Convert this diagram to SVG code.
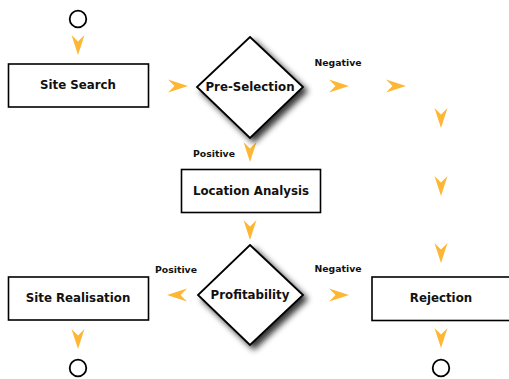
<svg xmlns="http://www.w3.org/2000/svg" xmlns:xlink="http://www.w3.org/1999/xlink" width="509" height="379" viewBox="0 0 509 379">
<style>
.box{fill:#fff;stroke:#000;stroke-width:1.6}
.dia{fill:#fff;stroke:#000;stroke-width:1.8;filter:url(#sh)}
.term{fill:#fff;stroke:#000;stroke-width:1.8}
.t{font-family:"DejaVu Sans",sans-serif;font-weight:bold;font-size:11.8px;text-anchor:middle;fill:#111}
.l{font-family:"DejaVu Sans",sans-serif;font-weight:bold;font-size:9.3px;text-anchor:middle;fill:#111}
.ah{fill:#FDB735}
</style>
<defs>
<filter id="sh" x="-30%" y="-30%" width="160%" height="160%">
<feGaussianBlur in="SourceAlpha" stdDeviation="3"/>
<feOffset dx="4" dy="4" result="b"/>
<feComponentTransfer><feFuncA type="linear" slope="0.8"/></feComponentTransfer>
<feMerge><feMergeNode/><feMergeNode in="SourceGraphic"/></feMerge>
</filter>
<path id="ah" class="ah" d="M0,0 L-20,-6.5 L-13.5,0 L-20,6.5 Z"/>
</defs>
<g id="connectors">
<use xlink:href="#ah" transform="translate(78,55) rotate(90)"/>
<use xlink:href="#ah" transform="translate(188,86)"/>
<use xlink:href="#ah" transform="translate(349,86)"/>
<use xlink:href="#ah" transform="translate(406,86)"/>
<use xlink:href="#ah" transform="translate(441,128) rotate(90)"/>
<use xlink:href="#ah" transform="translate(441,196) rotate(90)"/>
<use xlink:href="#ah" transform="translate(441,263) rotate(90)"/>
<use xlink:href="#ah" transform="translate(250,162) rotate(90)"/>
<use xlink:href="#ah" transform="translate(250,240) rotate(90)"/>
<use xlink:href="#ah" transform="translate(167,295) rotate(180)"/>
<use xlink:href="#ah" transform="translate(349,295)"/>
<use xlink:href="#ah" transform="translate(78,349) rotate(90)"/>
<use xlink:href="#ah" transform="translate(441,348) rotate(90)"/>
<text class="l" x="338" y="65.5">Negative</text>
<text class="l" x="214" y="156.5">Positive</text>
<text class="l" x="176" y="272.5">Positive</text>
<text class="l" x="338" y="271.5">Negative</text>
</g>
<g id="start"><circle class="term" cx="78" cy="19" r="8.3"/></g>
<g id="site-search"><rect class="box" x="8.5" y="64" width="140" height="43"/><text class="t" x="78" y="89">Site Search</text></g>
<g id="pre-selection"><polygon class="dia" points="250,37 303,87 250,138 197,87"/><text class="t" x="250" y="91">Pre-Selection</text></g>
<g id="location-analysis"><rect class="box" x="181.5" y="169.5" width="139" height="43"/><text class="t" x="251" y="195">Location Analysis</text></g>
<g id="profitability"><polygon class="dia" points="250,245 303,295 250,345 198,295"/><text class="t" x="250" y="299">Profitability</text></g>
<g id="site-realisation"><rect class="box" x="8.5" y="277" width="140" height="43"/><text class="t" x="78" y="302">Site Realisation</text></g>
<g id="rejection"><rect class="box" x="372" y="277" width="138" height="43.5"/><text class="t" x="441" y="302">Rejection</text></g>
<g id="end-realisation"><circle class="term" cx="78" cy="368" r="8.3"/></g>
<g id="end-rejection"><circle class="term" cx="441" cy="368" r="8.3"/></g>
</svg>
